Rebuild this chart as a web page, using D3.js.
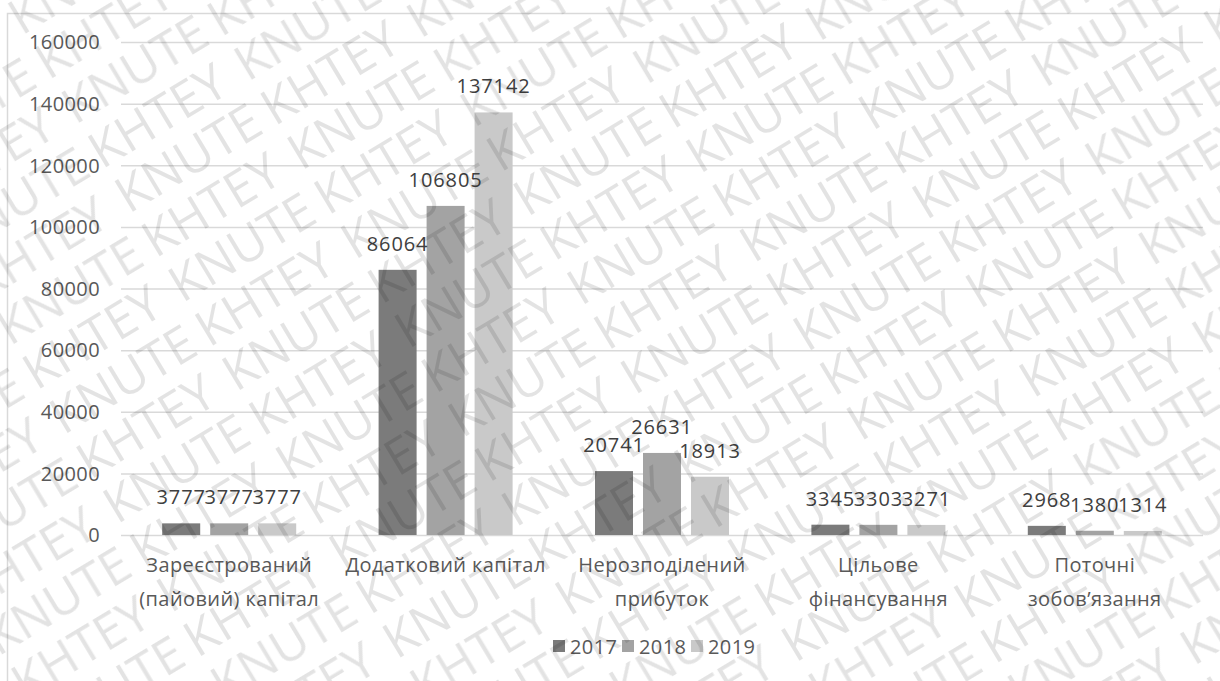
<!DOCTYPE html>
<html>
<head>
<meta charset="utf-8">
<script src="https://cdn.jsdelivr.net/npm/d3@7"></script>
<style>
  body { margin: 0; background: #fff; }
  text { font-family: "Open Sans", sans-serif; }
</style>
</head>
<body>
<div id="vis"></div>
<script>
// дані діаграми
const CATEGORIES = [
  ["Зареєстрований", "(пайовий) капітал"],
  ["Додатковий капітал"],
  ["Нерозподілений", "прибуток"],
  ["Цільове", "фінансування"],
  ["Поточні", "зобов’язання"]
];
const YEARS = ["2017", "2018", "2019"];
const VALUES_2017 = [3777, 86064, 20741, 3345, 2968];
const VALUES_2018 = [3777, 106805, 26631, 3303, 1380];
const VALUES_2019 = [3777, 137142, 18913, 3271, 1314];
const Y_TICKS = [0, 20000, 40000, 60000, 80000, 100000, 120000, 140000, 160000];
const COLORS = ["#7b7b7b", "#a3a3a3", "#c9c9c9"];
const WATERMARK = ["KNUTE", "KHTEY"];

const WIDTH = 1220;
const HEIGHT = 681;
const PLOT = { left: 121, right: 1203, top: 42, bottom: 535 };

const SVG = d3.select("#vis").append("svg")
  .attr("width", WIDTH).attr("height", HEIGHT);

SVG.append("rect").attr("width", WIDTH).attr("height", HEIGHT).attr("fill", "#fff");
SVG.append("rect")
  .attr("x", 7.5).attr("y", 13.5).attr("width", 1400).attr("height", 800)
  .attr("fill", "none").attr("stroke", "#d9d9d9").attr("stroke-width", 1.5);

const series = [VALUES_2017, VALUES_2018, VALUES_2019];
const rows = CATEGORIES.map((c, i) => ({
  idx: i,
  name: c,
  vals: YEARS.map((y, j) => ({ year: y, j: j, value: series[j][i] }))
}));

const yScale = d3.scaleLinear().domain([0, 160000]).range([PLOT.bottom, PLOT.top]);
const x0 = d3.scaleBand().domain(d3.range(CATEGORIES.length)).range([PLOT.left, PLOT.right]);
const barW = 38, step = 48;
const groupW = step * 3 - (step - barW);
const x1 = d3.scaleBand().domain(YEARS)
  .range([(x0.bandwidth() - groupW) / 2, (x0.bandwidth() + groupW) / 2])
  .paddingInner((step - barW) / step);

// сітка
const yAxis = d3.axisLeft(yScale).tickValues(Y_TICKS).tickSize(-(PLOT.right - PLOT.left)).tickFormat(d3.format("d"));
const gy = SVG.append("g").attr("transform", `translate(${PLOT.left},0)`).call(yAxis);
gy.select(".domain").remove();
gy.selectAll(".tick line").attr("stroke", "#d9d9d9").attr("stroke-width", 1.5);
gy.selectAll(".tick text")
  .attr("x", -21).attr("dy", "0.34em")
  .attr("fill", "#595959").attr("font-size", 20).attr("letter-spacing", 0.4);

// стовпці
const groups = SVG.append("g").selectAll("g")
  .data(rows)
  .join("g")
  .attr("transform", d => `translate(${x0(d.idx)},0)`);

groups.selectAll("rect")
  .data(d => d.vals)
  .join("rect")
  .attr("x", d => x1(d.year))
  .attr("y", d => yScale(d.value))
  .attr("width", x1.bandwidth())
  .attr("height", d => yScale(0) - yScale(d.value))
  .attr("fill", d => COLORS[d.j]);

groups.selectAll("text.lbl")
  .data(d => d.vals)
  .join("text")
  .attr("class", "lbl")
  .attr("x", d => x1(d.year) + x1.bandwidth() / 2)
  .attr("y", d => yScale(d.value) - 19)
  .attr("text-anchor", "middle")
  .attr("fill", "#404040").attr("font-size", 20).attr("letter-spacing", 0.9)
  .text(d => d.value);

// підписи категорій
groups.append("text")
  .attr("text-anchor", "middle")
  .attr("fill", "#595959").attr("font-size", 20).attr("letter-spacing", 0.4)
  .selectAll("tspan")
  .data(d => d.name)
  .join("tspan")
  .attr("x", x0.bandwidth() / 2)
  .attr("y", (d, i) => 572 + i * 34)
  .text(d => d);

// легенда
const legend = SVG.append("g").selectAll("g")
  .data(YEARS)
  .join("g")
  .attr("transform", (d, i) => `translate(${553 + i * 69},0)`);
legend.append("rect").attr("x", 0).attr("y", 640).attr("width", 12).attr("height", 12)
  .attr("fill", (d, i) => COLORS[i]);
legend.append("text").attr("x", 17).attr("y", 654)
  .attr("fill", "#595959").attr("font-size", 20).attr("letter-spacing", 0.4).text(d => d);

// водяний знак: слова всередині кадру - окремі тексти,
// біля країв - той самий візерунок, обрізаний по клітинках
const ANGLE = -31;
const ROW_H = 52, CELL_W = 170, BASE = 42;
const wmStyle = sel => sel.attr("font-size", 50).attr("fill", "#000").attr("fill-opacity", 0.11);
const defs = SVG.append("defs");
const pat = defs.append("pattern")
  .attr("id", "wm")
  .attr("patternUnits", "userSpaceOnUse")
  .attr("width", CELL_W * 2).attr("height", ROW_H * 2)
  .attr("patternTransform", `rotate(${ANGLE})`);
[0, 1].forEach(r => [0, 1].forEach(c => {
  pat.append("text").attr("x", c * CELL_W).attr("y", r * ROW_H + BASE)
    .call(wmStyle).text(WATERMARK[(r + c) % 2]);
}));
const clip = defs.append("clipPath").attr("id", "wmclip");

const wm = SVG.append("g").attr("pointer-events", "none")
  .attr("transform", `rotate(${ANGLE})`);
const rad = ANGLE * Math.PI / 180;
const rot = (x, y) => [x * Math.cos(rad) - y * Math.sin(rad), x * Math.sin(rad) + y * Math.cos(rad)];
d3.range(-4, 24).forEach(r => {
  d3.range(-6, 12).forEach(c => {
    const cx = c * CELL_W, cy = r * ROW_H;
    const cell = [[cx, cy], [cx + CELL_W, cy], [cx, cy + ROW_H], [cx + CELL_W, cy + ROW_H]].map(p => rot(p[0], p[1]));
    const touches = d3.max(cell, p => p[0]) > 0 && d3.min(cell, p => p[0]) < WIDTH &&
      d3.max(cell, p => p[1]) > 0 && d3.min(cell, p => p[1]) < HEIGHT;
    if (!touches) return;
    const t = wm.append("text").attr("x", cx).attr("y", cy + BASE)
      .call(wmStyle).text(WATERMARK[((r + c) % 2 + 2) % 2]);
    const b = t.node().getBBox();
    const pts = [[b.x, b.y], [b.x + b.width, b.y], [b.x, b.y + b.height], [b.x + b.width, b.y + b.height]].map(p => rot(p[0], p[1]));
    const inside = pts.every(p => p[0] >= 2 && p[0] <= WIDTH - 2 && p[1] >= 2 && p[1] <= HEIGHT - 2);
    if (!inside) {
      t.remove();
      clip.append("rect").attr("x", cx).attr("y", cy).attr("width", CELL_W).attr("height", ROW_H)
        .attr("transform", `rotate(${ANGLE})`);
    }
  });
});
SVG.append("rect")
  .attr("width", WIDTH).attr("height", HEIGHT)
  .attr("fill", "url(#wm)")
  .attr("clip-path", "url(#wmclip)")
  .attr("pointer-events", "none");
</script>
</body>
</html>
